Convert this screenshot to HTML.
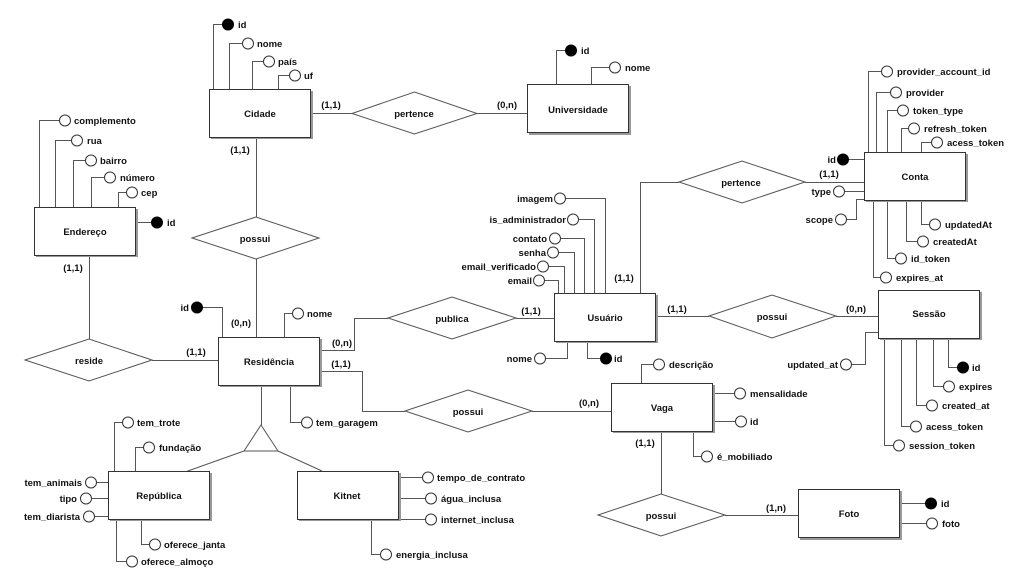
<!DOCTYPE html>
<html><head><meta charset="utf-8"><style>
html,body{margin:0;padding:0;background:#fff;width:1014px;height:571px;overflow:hidden}
svg{display:block}
text{font-family:"Liberation Sans",sans-serif;font-weight:bold;font-size:9.5px;fill:#111}
.e{font-size:10.5px}
.l{stroke:#555;stroke-width:1;fill:none}
.r{fill:#fff;stroke:#333;stroke-width:1}
.s{fill:#999}
.c{fill:#fff;stroke:#333;stroke-width:1}
.f{fill:#000;stroke:#000}
</style></head><body>
<svg width="1014" height="571" viewBox="0 0 1014 571">
<!-- connectors -->
<g class="l">
<path d="M310.5 113.5H352.5M477.5 113.5H527.5"/>
<path d="M256.5 137V217M256.5 259V337"/>
<path d="M89.5 255V339M152 360.5H218"/>
<path d="M320 350.5H354.5V318.5H388M516 318.5H554"/>
<path d="M320 371.5H362.5V411.5H405M532 411.5H611"/>
<path d="M640.5 293V182.5H679M805 182.5H864"/>
<path d="M655 316.5H709M836 316.5H878"/>
<path d="M661.5 431V494M725 515.5H798"/>
<path d="M261.5 385V425M244 451L185 472M278 451L322 471"/>
<!-- Cidade attrs -->
<path d="M213.5 89V24.5H222M229.5 89V43.5H242M252.5 89V61.5H263M278.5 89V75.5H289"/>
<!-- Universidade -->
<path d="M556.5 84V50.5H565M591.5 84V67.5H609"/>
<!-- Endereco -->
<path d="M39.5 207V120.5H59M55.5 207V140.5H71M73.5 207V160.5H85M91.5 207V177.5H104M118.5 207V192.5H126M136 222.5H151"/>
<!-- Conta -->
<path d="M868.5 152V71.5H881M876.5 152V92.5H890M887.5 152V110.5H897M901.5 152V128.5H908M921.5 152V142.5H931"/>
<path d="M849 159.5H864M845 191.5H864M847 219.5H856.5V199.5H864"/>
<path d="M921.5 200V224.5H929M906.5 200V241.5H917M887.5 200V258.5H895M873.5 200V277.5H880"/>
<!-- Usuario -->
<path d="M566 198.5H605.5V293M579 219.5H594.5V293M561 238.5H584.5V293M559 252.5H574.5V293M549 266.5H564.5V293M545 280.5H558.5V293"/>
<path d="M567.5 341V358.5H546M587.5 341V358.5H600"/>
<!-- Sessao -->
<path d="M852 364.5H865.5V332.5H878"/>
<path d="M884.5 338V445.5H893M901.5 338V426.5H910M916.5 338V405.5H926M933.5 338V386.5H943M948.5 338V367.5H957"/>
<!-- Residencia -->
<path d="M202 307.5H222.5V337M284.5 337V313.5H292M290.5 385V422.5H301"/>
<!-- Vaga -->
<path d="M641.5 383V364.5H653M713 393.5H734M713 421.5H735M693.5 431V456.5H701"/>
<!-- Foto -->
<path d="M900 503.5H926M900 523.5H926"/>
<!-- Republica -->
<path d="M114.5 472V422.5H122M135.5 472V447.5H143M96 482.5H108M92 498.5H108M95 516.5H108M141.5 520V544.5H149M116.5 520V561.5H126"/>
<!-- Kitnet -->
<path d="M398 477.5H422M398 498.5H425M398 519.5H425M371.5 519V554.5H380"/>
</g>
<!-- diamonds -->
<g fill="#fff" stroke="#555">
<polygon points="352,113.5 414.5,92 477,113.5 414.5,134"/>
<polygon points="192,238 256,217 319,238 256,259"/>
<polygon points="25,360 89,339 152,360 89,381"/>
<polygon points="388,318 452,297 516,318 452,339"/>
<polygon points="405,411 468,390 532,411 468,432"/>
<polygon points="679,182 742,161 805,182 742,203"/>
<polygon points="709,316 772,295 836,316 772,338"/>
<polygon points="598,515 661,494 725,515 661,536"/>
<polygon points="261,425 244,451 278,451"/>
</g>
<!-- entities -->
<g>
<rect class="s" x="211" y="91" width="102" height="48"/><rect class="r" x="209.5" y="89.5" width="101" height="48"/>
<rect class="s" x="529" y="86" width="102" height="49"/><rect class="r" x="527.5" y="84.5" width="101" height="48"/>
<rect class="s" x="36" y="209" width="102" height="48"/><rect class="r" x="34.5" y="207.5" width="101" height="48"/>
<rect class="s" x="866" y="154" width="102" height="48"/><rect class="r" x="864.5" y="152.5" width="101" height="48"/>
<rect class="s" x="556" y="295" width="102" height="48"/><rect class="r" x="554.5" y="293.5" width="101" height="48"/>
<rect class="s" x="880" y="292" width="102" height="48"/><rect class="r" x="878.5" y="290.5" width="101" height="48"/>
<rect class="s" x="220" y="339" width="102" height="48"/><rect class="r" x="218.5" y="337.5" width="101" height="48"/>
<rect class="s" x="613" y="385" width="102" height="48"/><rect class="r" x="611.5" y="383.5" width="101" height="48"/>
<rect class="s" x="110" y="473" width="102" height="48"/><rect class="r" x="108.5" y="471.5" width="101" height="48"/>
<rect class="s" x="299" y="473" width="102" height="48"/><rect class="r" x="297.5" y="471.5" width="101" height="48"/>
<rect class="s" x="800" y="491" width="102" height="49"/><rect class="r" x="798.5" y="489.5" width="101" height="48"/>
</g>
<!-- circles -->
<g class="c">
<circle cx="248" cy="43.5" r="5.5"/><circle cx="269" cy="61.5" r="5.5"/><circle cx="295" cy="75.5" r="5.5"/>
<circle cx="615" cy="67.5" r="5.5"/>
<circle cx="65" cy="120.5" r="5.5"/><circle cx="77" cy="140.5" r="5.5"/><circle cx="91" cy="160.5" r="5.5"/><circle cx="110" cy="177.5" r="5.5"/><circle cx="132" cy="192.5" r="5.5"/>
<circle cx="887" cy="71.5" r="5.5"/><circle cx="896" cy="92.5" r="5.5"/><circle cx="903" cy="110.5" r="5.5"/><circle cx="914" cy="128.5" r="5.5"/><circle cx="937" cy="142.5" r="5.5"/>
<circle cx="839" cy="191.5" r="5.5"/><circle cx="841" cy="219.5" r="5.5"/>
<circle cx="935" cy="224.5" r="5.5"/><circle cx="923" cy="241.5" r="5.5"/><circle cx="901" cy="258.5" r="5.5"/><circle cx="886" cy="277.5" r="5.5"/>
<circle cx="560" cy="198.5" r="5.5"/><circle cx="573" cy="219.5" r="5.5"/><circle cx="555" cy="238.5" r="5.5"/><circle cx="553" cy="252.5" r="5.5"/><circle cx="543" cy="266.5" r="5.5"/><circle cx="539" cy="280.5" r="5.5"/>
<circle cx="540" cy="358.5" r="5.5"/>
<circle cx="846" cy="364.5" r="5.5"/>
<circle cx="899" cy="445.5" r="5.5"/><circle cx="916" cy="426.5" r="5.5"/><circle cx="932" cy="405.5" r="5.5"/><circle cx="949" cy="386.5" r="5.5"/>
<circle cx="298" cy="313.5" r="5.5"/><circle cx="307" cy="422.5" r="5.5"/>
<circle cx="659" cy="364.5" r="5.5"/><circle cx="740" cy="393.5" r="5.5"/><circle cx="741" cy="421.5" r="5.5"/><circle cx="707" cy="456.5" r="5.5"/>
<circle cx="932" cy="523.5" r="5.5"/>
<circle cx="128" cy="422.5" r="5.5"/><circle cx="149" cy="447.5" r="5.5"/><circle cx="91" cy="482.5" r="5.5"/><circle cx="86" cy="498.5" r="5.5"/><circle cx="89" cy="516.5" r="5.5"/><circle cx="155" cy="544.5" r="5.5"/><circle cx="132" cy="561.5" r="5.5"/>
<circle cx="428" cy="477.5" r="5.5"/><circle cx="431" cy="498.5" r="5.5"/><circle cx="431" cy="519.5" r="5.5"/><circle cx="386" cy="554.5" r="5.5"/>
</g>
<g class="f">
<circle cx="228" cy="24.5" r="5.5"/><circle cx="571" cy="50.5" r="5.5"/><circle cx="157" cy="222.5" r="5.5"/>
<circle cx="843" cy="159.5" r="5.5"/><circle cx="606" cy="358.5" r="5.5"/><circle cx="963" cy="367.5" r="5.5"/>
<circle cx="197" cy="307.5" r="5.5"/><circle cx="931" cy="503.5" r="5.5"/>
</g>
<!-- entity labels -->
<g class="e" text-anchor="middle">
<text x="260" y="117">Cidade</text>
<text x="578" y="113">Universidade</text>
<text x="85" y="235">Endereço</text>
<text x="915" y="180">Conta</text>
<text x="605" y="321">Usuário</text>
<text x="929" y="317">Sessão</text>
<text x="269" y="365">Residência</text>
<text x="662" y="411">Vaga</text>
<text x="159" y="499">República</text>
<text x="347" y="499">Kitnet</text>
<text x="849" y="517">Foto</text>
</g>
<!-- relationship labels -->
<g class="e" text-anchor="middle">
<text x="414" y="117">pertence</text>
<text x="255" y="242">possui</text>
<text x="89" y="364">reside</text>
<text x="452" y="322">publica</text>
<text x="468" y="415">possui</text>
<text x="741" y="186">pertence</text>
<text x="772" y="320">possui</text>
<text x="661" y="519">possui</text>
</g>
<!-- cardinalities -->
<g text-anchor="middle">
<text x="331" y="108">(1,1)</text>
<text x="507" y="108">(0,n)</text>
<text x="240" y="153">(1,1)</text>
<text x="241" y="326">(0,n)</text>
<text x="73" y="271">(1,1)</text>
<text x="196" y="355">(1,1)</text>
<text x="342" y="346">(0,n)</text>
<text x="341" y="367">(1,1)</text>
<text x="531" y="314">(1,1)</text>
<text x="589" y="406">(0,n)</text>
<text x="624" y="281">(1,1)</text>
<text x="829" y="177">(1,1)</text>
<text x="677" y="312">(1,1)</text>
<text x="856" y="312">(0,n)</text>
<text x="645" y="446">(1,1)</text>
<text x="776" y="511">(1,n)</text>
</g>
<!-- attribute labels left-start -->
<g>
<text x="238" y="28">id</text><text x="257" y="47">nome</text><text x="278" y="65">país</text><text x="304" y="79">uf</text>
<text x="581" y="54">id</text><text x="625" y="71">nome</text>
<text x="74" y="124">complemento</text><text x="87" y="144">rua</text><text x="100" y="164">bairro</text><text x="120" y="181">número</text><text x="141" y="196">cep</text><text x="167" y="226">id</text>
<text x="897" y="75">provider_account_id</text><text x="906" y="96">provider</text><text x="913" y="114">token_type</text><text x="924" y="132">refresh_token</text><text x="947" y="146">acess_token</text>
<text x="945" y="228">updatedAt</text><text x="933" y="245">createdAt</text><text x="911" y="262">id_token</text><text x="896" y="281">expires_at</text>
<text x="614" y="362">id</text>
<text x="909" y="449">session_token</text><text x="926" y="430">acess_token</text><text x="942" y="409">created_at</text><text x="959" y="390">expires</text><text x="972" y="371">id</text>
<text x="307" y="317">nome</text><text x="316" y="426">tem_garagem</text>
<text x="669" y="368">descrição</text><text x="750" y="397">mensalidade</text><text x="750" y="425">id</text><text x="717" y="460">é_mobiliado</text>
<text x="941" y="507">id</text><text x="942" y="527">foto</text>
<text x="137" y="426">tem_trote</text><text x="159" y="451">fundação</text><text x="164" y="548">oferece_janta</text><text x="141" y="565">oferece_almoço</text>
<text x="437" y="481">tempo_de_contrato</text><text x="441" y="502">água_inclusa</text><text x="441" y="523">internet_inclusa</text><text x="396" y="558">energia_inclusa</text>
</g>
<g text-anchor="end">
<text x="836" y="163">id</text><text x="831" y="195">type</text><text x="833" y="223">scope</text>
<text x="553" y="202">imagem</text><text x="566" y="223">is_administrador</text><text x="547" y="242">contato</text><text x="546" y="256">senha</text><text x="536" y="270">email_verificado</text><text x="532" y="284">email</text><text x="532" y="362">nome</text>
<text x="838" y="368">updated_at</text><text x="189" y="311">id</text>
<text x="82" y="486">tem_animais</text><text x="77" y="502">tipo</text><text x="80" y="520">tem_diarista</text>
</g>
</svg>
</body></html>
